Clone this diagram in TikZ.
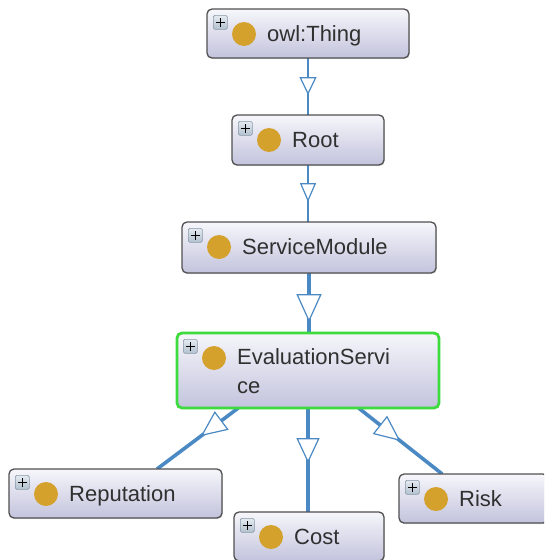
\documentclass[tikz,border=0pt]{standalone}
\usepackage{fontspec}
\setmainfont{Liberation Sans}
\usetikzlibrary{arrows.meta, calc, decorations.markings, shadows, backgrounds}

\definecolor{edgeblue}{HTML}{4A89C3}
\definecolor{boxtop}{HTML}{F6F6FB}
\definecolor{boxbottom}{HTML}{C3C3DD}
\definecolor{boxline}{HTML}{505050}
\definecolor{dotfill}{HTML}{D4A12C}
\definecolor{selgreen}{HTML}{3EDB3E}
\definecolor{plustop}{HTML}{E4EAF0}
\definecolor{plusbottom}{HTML}{B2C0CE}
\definecolor{plusline}{HTML}{8A98A8}
\definecolor{labeltext}{HTML}{303030}

\tikzset{
  classbox/.style={draw=boxline, line width=1.3pt, rounded corners=5pt,
    top color=boxtop, bottom color=boxbottom, inner sep=0pt, outer sep=0pt,
    anchor=north west,
    drop shadow={shadow xshift=0.8pt, shadow yshift=-1.2pt, opacity=0.22}},
  expander/.style={draw=plusline, line width=0.7pt, rounded corners=1.5pt,
    top color=plustop, bottom color=plusbottom, minimum size=14pt,
    inner sep=0pt, anchor=north west,
    path picture={\draw[black, line width=1.5pt]
      ([xshift=-4.5pt]path picture bounding box.center) --
      ([xshift=4.5pt]path picture bounding box.center)
      ([yshift=-4.5pt]path picture bounding box.center) --
      ([yshift=4.5pt]path picture bounding box.center);}},
  classdot/.style={circle, fill=dotfill, minimum size=24pt, inner sep=0pt},
  classlabel/.style={font=\fontsize{22}{29}\selectfont, text=labeltext,
    inner sep=0pt, anchor=base west, align=left},
  selection/.style={draw=selgreen, line width=2.8pt, rounded corners=5pt},
  link/.style={draw=edgeblue, line width=1.8pt},
  strong link/.style={draw=edgeblue, line width=3.6pt},
  subclass tip/.style n args={3}{postaction={decorate},
    decoration={markings, mark=at position #1 with
      {\arrow[edgeblue]{Triangle[length=#2, width=#3, fill=white, line width=1.2pt]}}}},
}

% one class box: [baseline of the last label line], name, x, y, width, height, label
\newcommand\owlclass[7][32]{%
  \node[classbox, minimum width=#5pt, minimum height=#6pt] (#2) at (#3,#4) {};
  \node[expander] (#2-plus) at ($(#2.north west)+(6,6)$) {};
  \node[classdot] (#2-dot) at ($(#2.north west)+(37,25)$) {};
  \node[classlabel] (#2-label) at ($(#2.north west)+(60,#1)$) {#7};
}

\begin{document}
\begin{tikzpicture}[x=1pt, y=-1pt]
  \useasboundingbox (0,0) rectangle (544,560);
  \clip (0,0) rectangle (544,560);

  % class hierarchy
  \owlclass{thing}{207}{9}{202}{49}{owl:Thing}
  \owlclass{root}{232}{115}{152}{50}{Root}
  \owlclass{module}{182}{222}{254}{51}{ServiceModule}
  \owlclass[60]{eval}{177}{333}{262}{75}{EvaluationServi\\ce}
  \draw[selection] (eval.north west) rectangle (eval.south east);
  \owlclass{reputation}{9}{469}{213}{49}{Reputation}
  \owlclass{cost}{234}{512}{150}{49}{Cost}
  \owlclass{risk}{399}{474}{149}{49}{Risk}

  % subclass links, kept behind the boxes
  \begin{pgfonlayer}{background}
  \draw[link, subclass tip={0.65}{18pt}{17pt}]
    (thing.south) -- (thing.south |- root.north);
  \draw[link, subclass tip={0.65}{19pt}{16pt}]
    (root.south) -- (root.south |- module.north);
  \draw[strong link, subclass tip={0.82}{28pt}{25pt}]
    (module.south) -- (module.south |- eval.north);
  \draw[strong link, subclass tip={0.53}{25pt}{23pt}]
    (eval.south) -- (eval.south |- cost.north);
  \draw[strong link, subclass tip={0.46}{26pt}{23pt}]
    ($(eval.south west)!0.234!(eval.south east)$) --
    ($(reputation.north west)!0.695!(reputation.north east)$);
  \draw[strong link, subclass tip={0.5}{26pt}{23pt}]
    ($(eval.south west)!0.693!(eval.south east)$) --
    ($(risk.north west)!0.29!(risk.north east)$);
  \end{pgfonlayer}
\end{tikzpicture}
\end{document}
